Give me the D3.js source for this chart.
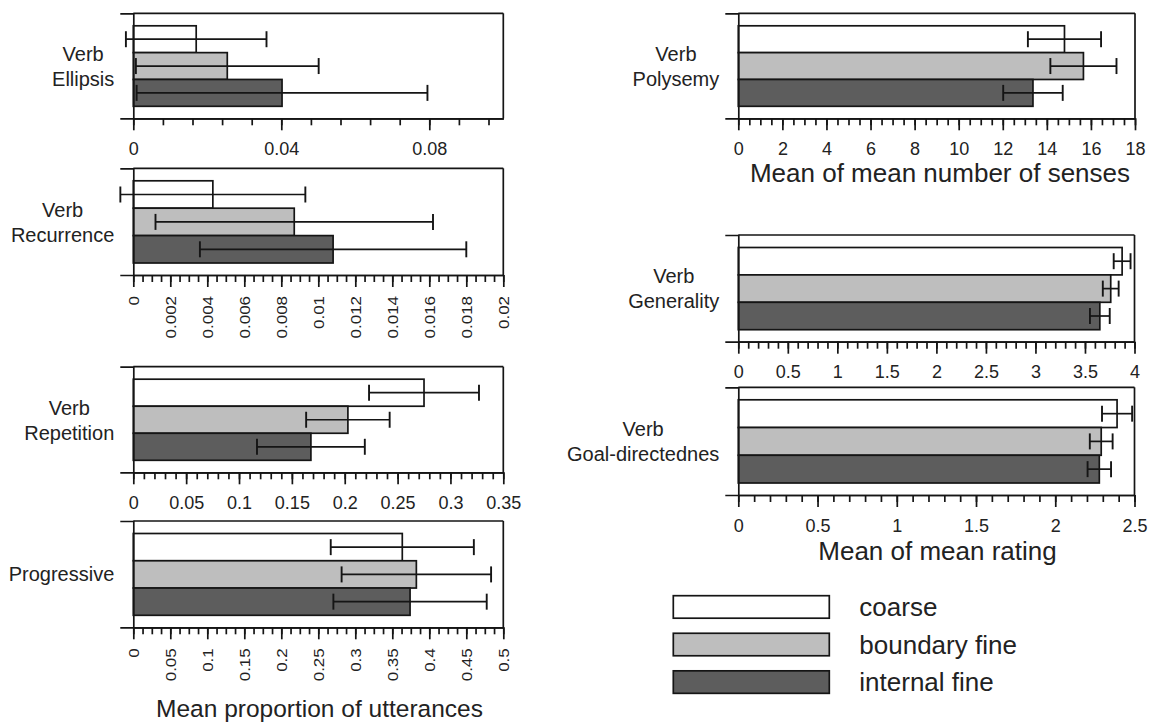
<!DOCTYPE html>
<html>
<head>
<meta charset="utf-8">
<script src="https://cdn.jsdelivr.net/npm/d3@7"></script>
<style>
  body { margin: 0; background: #fff; }
  svg { display: block; }
  text { font-family: "Liberation Sans", Arial, Helvetica, sans-serif; fill: #222; }
</style>
</head>
<body>
<div id="plot"></div>
<script>
// series (bar order, top to bottom)
var series = ["coarse", "boundary fine", "internal fine"];

// left column: mean proportion of utterances
var ellipsisMean = [0.0170, 0.0254, 0.0402];
var ellipsisErr = [0.0190, 0.0247, 0.0393];
var ellipsisTicks = [0, 0.04, 0.08];

var recurrenceMean = [0.0043, 0.0087, 0.0108];
var recurrenceErr = [0.0050, 0.0075, 0.0072];
var recurrenceTicks = [0, 0.002, 0.004, 0.006, 0.008, 0.01, 0.012, 0.014, 0.016, 0.018, 0.02];

var repetitionMean = [0.275, 0.203, 0.168];
var repetitionErr = [0.052, 0.0395, 0.051];
var repetitionTicks = [0, 0.05, 0.1, 0.15, 0.2, 0.25, 0.3, 0.35];

var progressiveMean = [0.3635, 0.3825, 0.374];
var progressiveErr = [0.0967, 0.101, 0.1036];
var progressiveTicks = [0, 0.05, 0.1, 0.15, 0.2, 0.25, 0.3, 0.35, 0.4, 0.45, 0.5];

// right column
var polysemyMean = [14.8, 15.66, 13.37];
var polysemyErr = [1.66, 1.5, 1.35];
var polysemyTicks = [0, 2, 4, 6, 8, 10, 12, 14, 16, 18];

var generalityMean = [3.875, 3.76, 3.65];
var generalityErr = [0.085, 0.08, 0.1];
var generalityTicks = [0, 0.5, 1, 1.5, 2, 2.5, 3, 3.5, 4];

var goalMean = [2.39, 2.29, 2.278];
var goalErr = [0.095, 0.072, 0.074];
var goalTicks = [0, 0.5, 1, 1.5, 2, 2.5];

var fills = {"coarse": "#ffffff", "boundary fine": "#bebebe", "internal fine": "#5d5d5d"};
var ink = "#151515";

var svg = d3.select('#plot').append('svg')
	.attr('width', 1156)
	.attr('height', 726)

var fmt = function(d){ return String(+d.toFixed(6)) }

// layout of each panel (pixels); data comes from the arrays above
var panels = [
	{label: ["Verb", "Ellipsis"], mean: ellipsisMean, err: ellipsisErr, ticks: ellipsisTicks, max: 0.1, minor: 0.008,
	 x0: 133.3, x1: 503.3, top: 13.3, bottom: 118.3, rotate: false},
	{label: ["Verb", "Recurrence"], mean: recurrenceMean, err: recurrenceErr, ticks: recurrenceTicks, max: 0.02, minor: 0.0005,
	 x0: 133.3, x1: 503.3, top: 168.3, bottom: 275, rotate: true},
	{label: ["Verb", "Repetition"], mean: repetitionMean, err: repetitionErr, ticks: repetitionTicks, max: 0.35, minor: 0.01,
	 x0: 133.3, x1: 503.3, top: 366.7, bottom: 472.3, rotate: false},
	{label: ["Progressive"], mean: progressiveMean, err: progressiveErr, ticks: progressiveTicks, max: 0.5, minor: 0.0125,
	 x0: 133.3, x1: 503.3, top: 521, bottom: 627.3, rotate: true},
	{label: ["Verb", "Polysemy"], mean: polysemyMean, err: polysemyErr, ticks: polysemyTicks, max: 18, minor: 0.5,
	 x0: 738.3, x1: 1135, top: 13.3, bottom: 118.3, rotate: false},
	{label: ["Verb", "Generality"], mean: generalityMean, err: generalityErr, ticks: generalityTicks, max: 4, minor: 0.1,
	 x0: 738.3, x1: 1134.5, top: 235, bottom: 341.7, rotate: false},
	{label: ["Verb", "Goal-directednes"], mean: goalMean, err: goalErr, ticks: goalTicks, max: 2.5, minor: 0.1,
	 x0: 738.3, x1: 1134.5, top: 387.3, bottom: 495, rotate: false}
]

function styleAxis(g){
	g.selectAll('path, line').attr('stroke', ink).attr('stroke-width', 1.7)
}

function drawPanel(p){
	var g = svg.append('g')
	var x = d3.scaleLinear().domain([0, p.max]).range([p.x0, p.x1])
	var y = d3.scaleBand().domain(series).range([p.top + 12.5, p.bottom - 12])

	// top frame line and right frame line
	g.append('line').attr('x1', p.x0).attr('x2', p.x1).attr('y1', p.top).attr('y2', p.top)
		.attr('stroke', ink).attr('stroke-width', 1.7)
	g.append('line').attr('x1', p.x1).attr('x2', p.x1).attr('y1', p.top).attr('y2', p.bottom)
		.attr('stroke', ink).attr('stroke-width', 1.7)

	// bars
	var rows = series.map(function(s, i){ return {s: s, m: p.mean[i], e: p.err[i]} })
	g.selectAll('rect.bar').data(rows).enter().append('rect')
		.attr('class', 'bar')
		.attr('x', x(0))
		.attr('y', function(d){ return y(d.s) })
		.attr('width', function(d){ return x(d.m) - x(0) })
		.attr('height', y.bandwidth())
		.attr('fill', function(d){ return fills[d.s] })
		.attr('stroke', ink).attr('stroke-width', 1.7)

	// error bars
	var eb = g.selectAll('g.err').data(rows).enter().append('g')
		.attr('transform', function(d){ return 'translate(0,' + (y(d.s) + y.bandwidth() / 2) + ')' })
	eb.append('line')
		.attr('x1', function(d){ return x(d.m - d.e) }).attr('x2', function(d){ return x(d.m + d.e) })
		.attr('stroke', ink).attr('stroke-width', 1.7)
	eb.append('line')
		.attr('x1', function(d){ return x(d.m - d.e) }).attr('x2', function(d){ return x(d.m - d.e) })
		.attr('y1', -8).attr('y2', 8)
		.attr('stroke', ink).attr('stroke-width', 1.9)
	eb.append('line')
		.attr('x1', function(d){ return x(d.m + d.e) }).attr('x2', function(d){ return x(d.m + d.e) })
		.attr('y1', -8).attr('y2', 8)
		.attr('stroke', ink).attr('stroke-width', 1.9)

	// left axis: line plus outer ticks at top and bottom
	var yl = d3.scaleLinear().range([p.bottom, p.top])
	g.append('g').attr('transform', 'translate(' + p.x0 + ',0)')
		.call(d3.axisLeft(yl).tickValues([]).tickSizeOuter(13))
		.call(styleAxis)

	// minor ticks
	var minors = d3.range(0, p.max + p.minor / 2, p.minor)
	g.append('g').attr('transform', 'translate(0,' + p.bottom + ')')
		.call(d3.axisBottom(x).tickValues(minors).tickSize(7).tickSizeOuter(0).tickFormat(''))
		.call(styleAxis)

	// major ticks with labels
	var ax = g.append('g').attr('transform', 'translate(0,' + p.bottom + ')')
		.call(d3.axisBottom(x).tickValues(p.ticks).tickSize(12).tickSizeOuter(0).tickPadding(12).tickFormat(fmt))
		.call(styleAxis)
	ax.selectAll('text').attr('fill', '#222').style('font-size', '18px')
		.style('font-family', '"Liberation Sans", Arial, sans-serif')
	if (p.rotate){
		// labels read upward, slightly stretched along their length like the source
		ax.selectAll('text')
			.style('font-size', '15px')
			.attr('text-anchor', 'end')
			.attr('transform', 'rotate(-90) scale(1.13,1)')
			.attr('x', -21 / 1.13).attr('y', 0).attr('dy', '0.36em')
	}

	// category label, lines centred on the block, block right edge near the axis
	var lab = g.append('text').style('font-size', '20px').attr('text-anchor', 'middle')
	var mid = (p.top + p.bottom) / 2
	var base = p.label.length > 1 ? [mid - 5, mid + 20] : [mid + 7]
	p.label.forEach(function(t, i){
		lab.append('tspan').attr('y', base[i]).text(t)
	})
	var maxW = 0
	lab.selectAll('tspan').each(function(){ maxW = Math.max(maxW, this.getComputedTextLength()) })
	lab.selectAll('tspan').attr('x', p.x0 - 19 - maxW / 2)
}

panels.forEach(drawPanel)

// axis titles
var titles = [
	{t: "Mean proportion of utterances", x: 319.5, y: 716.5, size: 24.5},
	{t: "Mean of mean number of senses", x: 940, y: 181.5, size: 26},
	{t: "Mean of mean rating", x: 937.5, y: 560, size: 26}
]
svg.selectAll('text.title').data(titles).enter().append('text')
	.attr('class', 'title')
	.attr('x', function(d){ return d.x }).attr('y', function(d){ return d.y })
	.attr('text-anchor', 'middle')
	.style('font-size', function(d){ return d.size + 'px' })
	.text(function(d){ return d.t })

// legend
var ly = d3.scaleBand().domain(series).range([595.7, 696]).paddingInner(0.33)
var leg = svg.selectAll('g.leg').data(series).enter().append('g')
	.attr('transform', function(d){ return 'translate(673.3,' + ly(d) + ')' })
leg.append('rect')
	.attr('width', 156).attr('height', 22.5)
	.attr('fill', function(d){ return fills[d] })
	.attr('stroke', ink).attr('stroke-width', 1.7)
leg.append('text')
	.attr('x', 186).attr('y', 20.5)
	.style('font-size', '26px')
	.text(function(d){ return d })
</script>
</body>
</html>
